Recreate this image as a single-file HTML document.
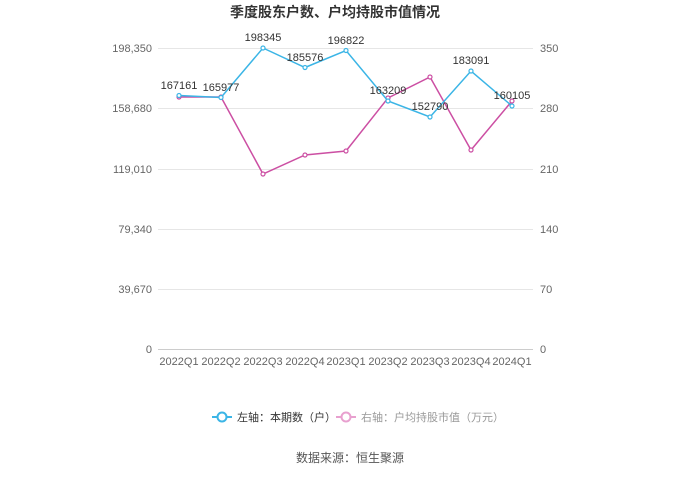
<!DOCTYPE html>
<html><head><meta charset="utf-8"><style>
body{margin:0;background:#fff;width:700px;height:474px;overflow:hidden;font-family:"Liberation Sans","Noto Sans CJK SC",sans-serif;}
</style></head><body>
<svg width="700" height="474" xmlns="http://www.w3.org/2000/svg" font-family="Liberation Sans, Noto Sans CJK SC, sans-serif">
<text x="335" y="17" text-anchor="middle" font-size="14" font-weight="bold" fill="#333">季度股东户数、户均持股市值情况</text>
<g stroke="#e6e6e6" stroke-width="1">
<line x1="158" y1="48.5" x2="533" y2="48.5"/><line x1="158" y1="108.5" x2="533" y2="108.5"/>
<line x1="158" y1="169.5" x2="533" y2="169.5"/><line x1="158" y1="229.5" x2="533" y2="229.5"/>
<line x1="158" y1="289.5" x2="533" y2="289.5"/></g>
<line x1="158" y1="349.5" x2="533" y2="349.5" stroke="#ccc"/>
<g font-size="11" fill="#666" text-anchor="end">
<text x="152" y="52">198,350</text><text x="152" y="112">158,680</text><text x="152" y="173">119,010</text>
<text x="152" y="233">79,340</text><text x="152" y="293">39,670</text><text x="152" y="353">0</text></g>
<g font-size="11" fill="#666" text-anchor="start">
<text x="540" y="52">350</text><text x="540" y="112">280</text><text x="540" y="173">210</text>
<text x="540" y="233">140</text><text x="540" y="293">70</text><text x="540" y="353">0</text></g>
<g font-size="11" fill="#666" text-anchor="middle">
<text x="179" y="365">2022Q1</text><text x="221" y="365">2022Q2</text><text x="263" y="365">2022Q3</text>
<text x="305" y="365">2022Q4</text><text x="346" y="365">2023Q1</text><text x="388" y="365">2023Q2</text>
<text x="430" y="365">2023Q3</text><text x="471" y="365">2023Q4</text><text x="512" y="365">2024Q1</text></g>
<polyline fill="none" stroke="#cc4fa3" stroke-width="1.5" points="179,97 221,97 263,174 305,155 346,151 388,98 430,77 471,150 512,101"/>
<g fill="#fff" stroke="#cc4fa3" stroke-width="1.2">
<circle cx="179" cy="97" r="2"/><circle cx="221" cy="97" r="2"/><circle cx="263" cy="174" r="2"/><circle cx="305" cy="155" r="2"/><circle cx="346" cy="151" r="2"/><circle cx="388" cy="98" r="2"/><circle cx="430" cy="77" r="2"/><circle cx="471" cy="150" r="2"/><circle cx="512" cy="101" r="2"/></g>
<polyline fill="none" stroke="#3bb5e6" stroke-width="1.5" points="179,95.5 221,97.5 263,48 305,67.5 346,50.5 388,101 430,117 471,71 512,106"/>
<g fill="#fff" stroke="#3bb5e6" stroke-width="1.2">
<circle cx="179" cy="95.5" r="2"/><circle cx="221" cy="97.5" r="2"/><circle cx="263" cy="48" r="2"/><circle cx="305" cy="67.5" r="2"/><circle cx="346" cy="50.5" r="2"/><circle cx="388" cy="101" r="2"/><circle cx="430" cy="117" r="2"/><circle cx="471" cy="71" r="2"/><circle cx="512" cy="106" r="2"/></g>
<g font-size="11" fill="#333" text-anchor="middle">
<text x="179" y="89">167161</text><text x="221" y="91">165977</text><text x="263" y="41">198345</text>
<text x="305" y="61">185576</text><text x="346" y="44">196822</text><text x="388" y="94">163209</text>
<text x="430" y="110">152790</text><text x="471" y="64">183091</text><text x="512" y="99">160105</text></g>
<g font-size="11">
<line x1="212" y1="417" x2="232" y2="417" stroke="#3bb5e6" stroke-width="2"/><circle cx="222" cy="417" r="4.5" fill="#fff" stroke="#3bb5e6" stroke-width="2"/>
<text x="237" y="421" fill="#333">左轴：本期数（户）</text>
<line x1="336" y1="417" x2="356" y2="417" stroke="#e8a0cf" stroke-width="2"/><circle cx="346" cy="417" r="4.5" fill="#fff" stroke="#e8a0cf" stroke-width="2"/>
<text x="361" y="421" fill="#999">右轴：户均持股市值（万元）</text></g>
<text x="350" y="462" text-anchor="middle" font-size="12" fill="#555">数据来源：恒生聚源</text>
</svg>
</body></html>
